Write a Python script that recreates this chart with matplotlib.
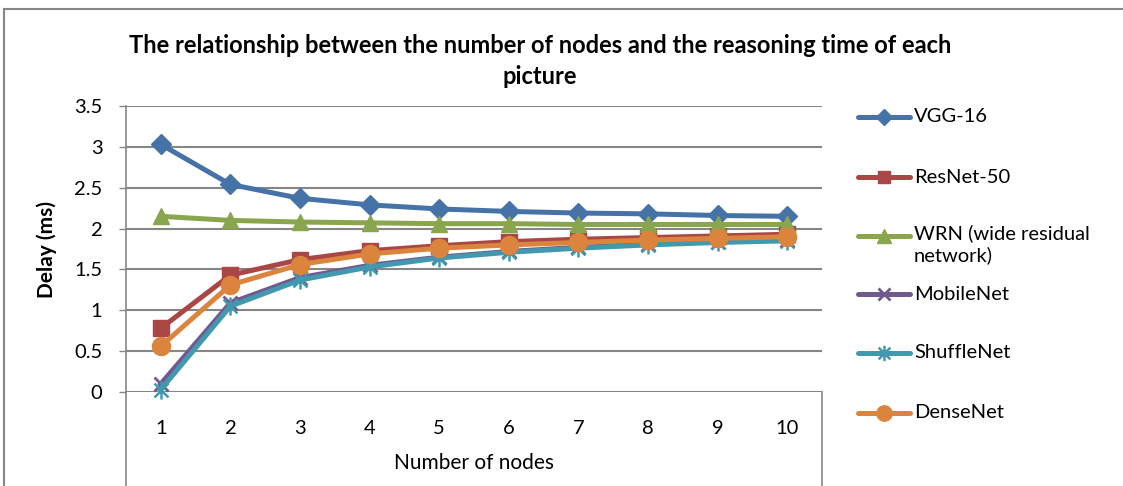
import matplotlib
matplotlib.use("Agg")
import matplotlib.pyplot as plt
from matplotlib.lines import Line2D
from matplotlib.patches import Rectangle
from matplotlib.path import Path

plt.rcParams['font.family'] = ['Lato', 'DejaVu Sans']

nodes = [1, 2, 3, 4, 5, 6, 7, 8, 9, 10]
vgg16 = [3.03, 2.54, 2.37, 2.29, 2.24, 2.21, 2.19, 2.18, 2.16, 2.15]
resnet50 = [0.78, 1.43, 1.62, 1.73, 1.79, 1.84, 1.87, 1.89, 1.91, 1.93]
wrn = [2.15, 2.10, 2.08, 2.07, 2.06, 2.06, 2.05, 2.05, 2.05, 2.05]
mobilenet = [0.10, 1.09, 1.40, 1.55, 1.65, 1.72, 1.77, 1.81, 1.84, 1.86]
shufflenet = [0.03, 1.05, 1.37, 1.53, 1.64, 1.71, 1.76, 1.80, 1.83, 1.85]
densenet = [0.56, 1.31, 1.56, 1.69, 1.76, 1.80, 1.83, 1.86, 1.88, 1.90]

labels = ['VGG-16', 'ResNet-50', 'WRN (wide residual\nnetwork)',
          'MobileNet', 'ShuffleNet', 'DenseNet']
series = [vgg16, resnet50, wrn, mobilenet, shufflenet, densenet]
yticks = [0, 0.5, 1, 1.5, 2, 2.5, 3, 3.5]

# asterisk marker: x plus vertical bar
star = Path([(-1, -1), (1, 1), (-1, 1), (1, -1), (0, -1.3), (0, 1.3)],
            [Path.MOVETO, Path.LINETO, Path.MOVETO, Path.LINETO,
             Path.MOVETO, Path.LINETO])

styles = [
    dict(color='#4572A7', marker='D', ms=10),
    dict(color='#AA4643', marker='s', ms=11),
    dict(color='#89A54E', marker='^', ms=12),
    dict(color='#71588F', marker='x', ms=10, mew=2),
    dict(color='#4198AF', marker=star, ms=13, mew=1.8),
    dict(color='#DB843D', marker='o', ms=13),
]

fig = plt.figure(figsize=(11.23, 4.86), dpi=100)
ax = fig.add_axes([0.1122, 0.1934, 0.6198, 0.5885])

x = list(range(len(nodes)))
lines = []
for vals, lab, st in zip(series, labels, styles):
    ln, = ax.plot(x, vals, lw=3.6, label=lab, color=st['color'],
                  marker=st['marker'], markersize=st['ms'],
                  markeredgewidth=st.get('mew', 1),
                  markeredgecolor=st['color'], markerfacecolor=st['color'],
                  clip_on=False, zorder=3)
    lines.append(ln)

ax.set_xlim(-0.5, len(nodes) - 0.5)
ax.set_ylim(0, 3.5)
ax.set_yticks(yticks)
ax.set_yticklabels(['0', '0.5', '1', '1.5', '2', '2.5', '3', '3.5'])
ax.set_xticks(x)
ax.set_xticklabels([str(n) for n in nodes])
ax.tick_params(axis='y', length=5, width=1, color='#868686', labelsize=14.5, pad=12)
ax.tick_params(axis='x', length=0, labelsize=14.5, pad=20)
ax.grid(axis='y', color='#868686', lw=1.5)
ax.set_axisbelow(True)
for s in ['top', 'right', 'bottom']:
    ax.spines[s].set_visible(False)
ax.spines['left'].set_color('#868686')
ax.spines['left'].set_linewidth(1.2)

# frame lines below the category axis
ax.plot([0, 0], [0, -0.34], transform=ax.transAxes, color='#868686', lw=1.2, clip_on=False)
ax.plot([1, 1], [0, -0.34], transform=ax.transAxes, color='#868686', lw=1.2, clip_on=False)

ax.set_xlabel('Number of nodes', fontsize=15, labelpad=12)
ax.set_ylabel('Delay (ms)', fontsize=15, fontweight='bold', labelpad=12)

fig.text(0.481, 0.907, 'The relationship between the number of nodes and the reasoning time of each',
         ha='center', va='center', fontsize=17, fontweight='bold')
fig.text(0.481, 0.843, 'picture', ha='center', va='center', fontsize=17, fontweight='bold')

# chart area border
fig.add_artist(Rectangle((4 / 1123, -0.1), 1.2, 1.1 - 9 / 486, transform=fig.transFigure,
                         fill=False, edgecolor='#868686', lw=1.5))

# legend entries, evenly spaced
leg_y = [117, 177, 236, 294, 353, 413]
for ln, lab, py in zip(lines, labels, leg_y):
    yf = 1 - py / 486
    fig.add_artist(Line2D([858 / 1123, 910 / 1123], [yf, yf], transform=fig.transFigure,
                          color=ln.get_color(), lw=3.6, solid_capstyle='round'))
    fig.add_artist(Line2D([884 / 1123], [yf], transform=fig.transFigure,
                          marker=ln.get_marker(), markersize=ln.get_markersize() * 0.85,
                          markeredgewidth=ln.get_markeredgewidth(),
                          color=ln.get_color(), markerfacecolor=ln.get_color(),
                          markeredgecolor=ln.get_color(), linestyle='none'))
    if '\n' in lab:
        fig.text(914 / 1123, yf + 12 / 486, lab, ha='left', va='top', fontsize=14.5,
                 linespacing=1.3)
    else:
        fig.text(914 / 1123, yf, lab, ha='left', va='center', fontsize=14.5)

fig.savefig('out.png', dpi=100)
